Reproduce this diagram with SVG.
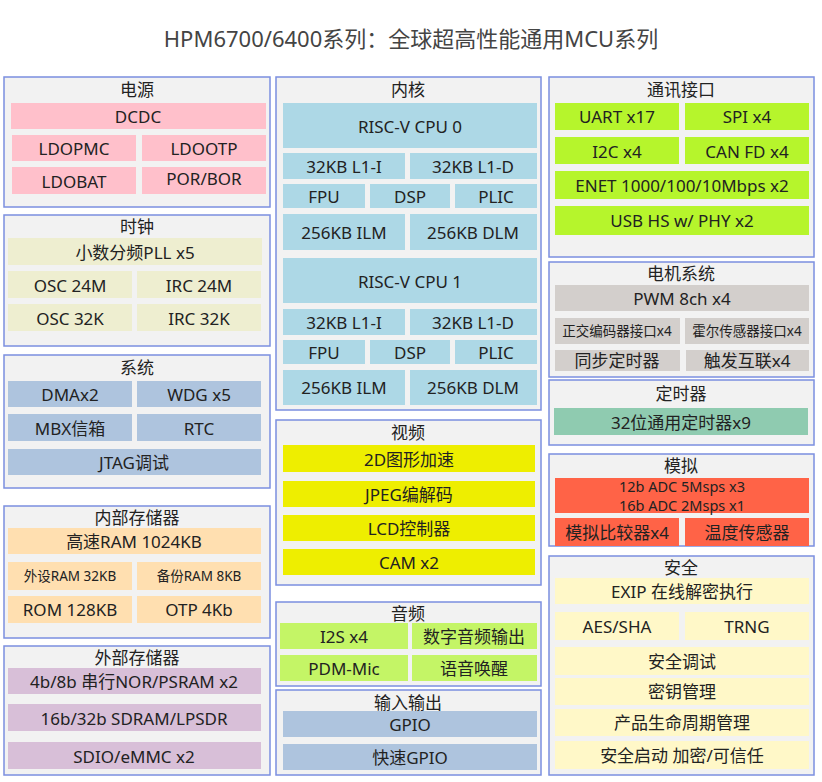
<svg xmlns="http://www.w3.org/2000/svg" width="822" height="782" viewBox="0 0 822 782">
<style>
text{font-family:"Noto Sans","Noto Sans CJK SC",sans-serif;font-size:17px;fill:#222;text-anchor:middle;dominant-baseline:central}
.c{fill:#f2f2f2;stroke:#7b8fe0;stroke-width:1.5}
.t{font-size:17px}
.pk{fill:#ffc0cb}.bg{fill:#eeeed0}.sb{fill:#aec4de}.pe{fill:#ffdfb0}.th{fill:#d8bfd8}
.lb{fill:#add8e6}.ye{fill:#eeee00}.lg{fill:#c4f566}.gy{fill:#d3cfcc}.gr{fill:#8fcbb0}.to{fill:#ff6347}.lc{fill:#fff8c8}.gg{fill:#b6f52c}
.s{font-size:13.5px}
.a{font-size:14.5px}
</style>
<rect width="822" height="782" fill="#fff"/>
<text x="411" y="38" style="font-size:22px;fill:#444">HPM6700/6400系列：全球超高性能通用MCU系列</text>

<g id="power"><rect class="c" x="4" y="77" width="266" height="130"/><text class="t" x="137" y="89">电源</text>
<rect class="pk" x="11" y="103" width="255" height="26"/><text x="138" y="116">DCDC</text>
<rect class="pk" x="12" y="135" width="124" height="26"/><text x="74" y="148">LDOPMC</text>
<rect class="pk" x="142" y="135" width="124" height="26"/><text x="204" y="148">LDOOTP</text>
<rect class="pk" x="12" y="167" width="124" height="27"/><text x="74" y="181">LDOBAT</text>
<rect class="pk" x="142" y="167" width="124" height="27"/><text x="204" y="178">POR/BOR</text></g>

<g id="clock"><rect class="c" x="4" y="215" width="266" height="131"/><text class="t" x="137" y="226">时钟</text>
<rect class="bg" x="8" y="238" width="254" height="27"/><text x="135" y="252">小数分频PLL x5</text>
<rect class="bg" x="8" y="271" width="124" height="27"/><text x="70" y="285">OSC 24M</text>
<rect class="bg" x="137" y="271" width="124" height="27"/><text x="199" y="285">IRC 24M</text>
<rect class="bg" x="8" y="304" width="124" height="27"/><text x="70" y="318">OSC 32K</text>
<rect class="bg" x="137" y="304" width="124" height="27"/><text x="199" y="318">IRC 32K</text></g>

<g id="system"><rect class="c" x="4" y="355" width="266" height="133"/><text class="t" x="137" y="367">系统</text>
<rect class="sb" x="8" y="381" width="124" height="26"/><text x="70" y="394">DMAx2</text>
<rect class="sb" x="137" y="381" width="124" height="26"/><text x="199" y="394">WDG x5</text>
<rect class="sb" x="8" y="414" width="124" height="27"/><text x="70" y="428">MBX信箱</text>
<rect class="sb" x="137" y="414" width="124" height="27"/><text x="199" y="428">RTC</text>
<rect class="sb" x="8" y="449" width="253" height="26"/><text x="134" y="462">JTAG调试</text></g>

<g id="imem"><rect class="c" x="4" y="506" width="266" height="132"/><text class="t" x="137" y="517">内部存储器</text>
<rect class="pe" x="8" y="528" width="253" height="26"/><text x="134" y="541">高速RAM 1024KB</text>
<rect class="pe" x="8" y="562" width="124" height="28"/><text class="s" x="70" y="576">外设RAM 32KB</text>
<rect class="pe" x="137" y="562" width="124" height="28"/><text class="s" x="199" y="576">备份RAM 8KB</text>
<rect class="pe" x="8" y="596" width="124" height="27"/><text x="70" y="609">ROM 128KB</text>
<rect class="pe" x="137" y="596" width="124" height="27"/><text x="199" y="609">OTP 4Kb</text></g>

<g id="emem"><rect class="c" x="4" y="646" width="266" height="129"/><text class="t" x="137" y="657">外部存储器</text>
<rect class="th" x="8" y="668" width="253" height="26"/><text x="134" y="681">4b/8b 串行NOR/PSRAM x2</text>
<rect class="th" x="8" y="704" width="253" height="27"/><text x="134" y="718">16b/32b SDRAM/LPSDR</text>
<rect class="th" x="8" y="742" width="253" height="27"/><text x="134" y="756">SDIO/eMMC x2</text></g>

<g id="core"><rect class="c" x="276" y="77" width="265" height="333"/><text class="t" x="408" y="89">内核</text>
<rect class="lb" x="283" y="103" width="254" height="45"/><text x="410" y="126">RISC-V CPU 0</text>
<rect class="lb" x="283" y="153" width="122" height="26"/><text x="344" y="166">32KB L1-I</text>
<rect class="lb" x="410" y="153" width="127" height="26"/><text x="473" y="166">32KB L1-D</text>
<rect class="lb" x="283" y="184" width="82" height="24"/><text x="324" y="196">FPU</text>
<rect class="lb" x="370" y="184" width="80" height="24"/><text x="410" y="196">DSP</text>
<rect class="lb" x="455" y="184" width="82" height="24"/><text x="496" y="196">PLIC</text>
<rect class="lb" x="283" y="214" width="122" height="36"/><text x="344" y="232">256KB ILM</text>
<rect class="lb" x="410" y="214" width="127" height="36"/><text x="473" y="232">256KB DLM</text>
<rect class="lb" x="283" y="258" width="254" height="45"/><text x="410" y="281">RISC-V CPU 1</text>
<rect class="lb" x="283" y="309" width="122" height="26"/><text x="344" y="322">32KB L1-I</text>
<rect class="lb" x="410" y="309" width="127" height="26"/><text x="473" y="322">32KB L1-D</text>
<rect class="lb" x="283" y="340" width="82" height="24"/><text x="324" y="352">FPU</text>
<rect class="lb" x="370" y="340" width="80" height="24"/><text x="410" y="352">DSP</text>
<rect class="lb" x="455" y="340" width="82" height="24"/><text x="496" y="352">PLIC</text>
<rect class="lb" x="283" y="370" width="122" height="35"/><text x="344" y="387">256KB ILM</text>
<rect class="lb" x="410" y="370" width="127" height="35"/><text x="473" y="387">256KB DLM</text></g>

<g id="video"><rect class="c" x="276" y="420" width="265" height="165"/><text class="t" x="408" y="432">视频</text>
<rect class="ye" x="283" y="445" width="252" height="27"/><text x="409" y="459">2D图形加速</text>
<rect class="ye" x="283" y="481" width="252" height="26"/><text x="409" y="494">JPEG编解码</text>
<rect class="ye" x="283" y="515" width="252" height="26"/><text x="409" y="528">LCD控制器</text>
<rect class="ye" x="283" y="549" width="252" height="26"/><text x="409" y="562">CAM x2</text></g>

<g id="audio"><rect class="c" x="276" y="602" width="265" height="84"/><text class="t" x="408" y="613">音频</text>
<rect class="lg" x="280" y="623" width="128" height="26"/><text x="344" y="636">I2S x4</text>
<rect class="lg" x="412" y="623" width="125" height="26"/><text x="474" y="636">数字音频输出</text>
<rect class="lg" x="280" y="655" width="128" height="26"/><text x="344" y="668">PDM-Mic</text>
<rect class="lg" x="412" y="655" width="125" height="26"/><text x="474" y="668">语音唤醒</text></g>

<g id="io"><rect class="c" x="276" y="690" width="265" height="85"/><text class="t" x="408" y="702">输入输出</text>
<rect class="sb" x="283" y="711" width="254" height="26"/><text x="410" y="724">GPIO</text>
<rect class="sb" x="283" y="744" width="254" height="26"/><text x="410" y="757">快速GPIO</text></g>

<g id="comm"><rect class="c" x="549" y="77" width="265" height="180"/><text class="t" x="681" y="89">通讯接口</text>
<rect class="gg" x="555" y="103" width="124" height="27"/><text x="617" y="116">UART x17</text>
<rect class="gg" x="685" y="103" width="124" height="27"/><text x="747" y="116">SPI x4</text>
<rect class="gg" x="555" y="137" width="124" height="27"/><text x="617" y="151">I2C x4</text>
<rect class="gg" x="685" y="137" width="124" height="27"/><text x="747" y="151">CAN FD x4</text>
<rect class="gg" x="555" y="171" width="254" height="28"/><text x="682" y="185">ENET 1000/100/10Mbps x2</text>
<rect class="gg" x="555" y="206" width="254" height="29"/><text x="682" y="220">USB HS w/ PHY x2</text></g>

<g id="motor"><rect class="c" x="549" y="262" width="265" height="115"/><text class="t" x="681" y="273">电机系统</text>
<rect class="gy" x="555" y="285" width="254" height="26"/><text x="682" y="298">PWM 8ch x4</text>
<rect class="gy" x="555" y="318" width="125" height="26"/><text class="s" x="617" y="331">正交编码器接口x4</text>
<rect class="gy" x="685" y="318" width="124" height="26"/><text class="s" x="747" y="331">霍尔传感器接口x4</text>
<rect class="gy" x="555" y="350" width="125" height="21"/><text x="617" y="360">同步定时器</text>
<rect class="gy" x="686" y="350" width="123" height="21"/><text x="747" y="360">触发互联x4</text></g>

<g id="timer"><rect class="c" x="549" y="380" width="265" height="65"/><text class="t" x="681" y="393">定时器</text>
<rect class="gr" x="554" y="408" width="254" height="27"/><text x="681" y="422">32位通用定时器x9</text></g>

<g id="analog"><rect class="c" x="549" y="454" width="265" height="92"/><text class="t" x="681" y="465">模拟</text>
<rect class="to" x="555" y="478" width="254" height="35"/><text class="a" x="682" y="486">12b ADC 5Msps x3</text><text class="a" x="682" y="505">16b ADC 2Msps x1</text>
<rect class="to" x="555" y="518" width="124" height="28"/><text x="617" y="532">模拟比较器x4</text>
<rect class="to" x="685" y="518" width="124" height="28"/><text x="747" y="532">温度传感器</text></g>

<g id="security"><rect class="c" x="549" y="556" width="265" height="219"/><text class="t" x="681" y="567">安全</text>
<rect class="lc" x="555" y="578" width="254" height="26"/><text x="682" y="591">EXIP 在线解密执行</text>
<rect class="lc" x="555" y="612" width="124" height="28"/><text x="617" y="626">AES/SHA</text>
<rect class="lc" x="685" y="612" width="124" height="28"/><text x="747" y="626">TRNG</text>
<rect class="lc" x="555" y="647" width="254" height="28"/><text x="682" y="661">安全调试</text>
<rect class="lc" x="555" y="678" width="254" height="27"/><text x="682" y="691">密钥管理</text>
<rect class="lc" x="555" y="709" width="254" height="27"/><text x="682" y="722">产品生命周期管理</text>
<rect class="lc" x="555" y="741" width="254" height="28"/><text x="682" y="755">安全启动 加密/可信任</text></g>
<g id="connectors"/>
</svg>
